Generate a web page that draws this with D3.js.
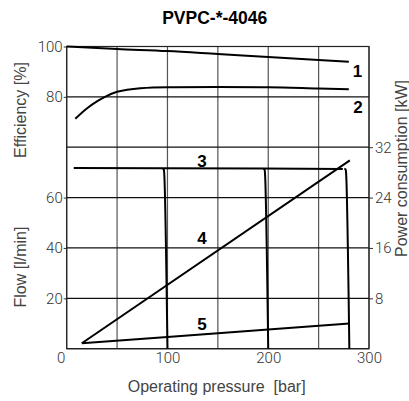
<!DOCTYPE html>
<html><head><meta charset="utf-8">
<script src="https://cdn.jsdelivr.net/npm/d3@7"></script>
<style>
html,body{margin:0;padding:0;background:#fff;}
svg{display:block;}
.tick text{font-family:Roboto,"Liberation Sans",sans-serif;font-weight:300;}
</style></head>
<body>
<svg id="c" width="409" height="401"></svg>
<script>
// ---- data ----
const title = "PVPC-*-4046";
const xTicks = [0, 100, 200, 300];
const xGrid = [0, 50, 100, 150, 200, 250, 300];
const effTicks = [100, 80];
const flowTicks = [20, 40, 60];
const powerTicks = [8, 16, 24, 32];

// curve 1: overall efficiency [%]
const c1Pressure = [0, 50, 100, 150, 200, 250, 280];
const c1Eff = [100, 99.0, 98.2, 97.0, 95.8, 94.6, 93.9];
// curve 2: volumetric efficiency [%]
const c2Pressure = [8.5, 20, 30, 38, 50, 60, 73, 100, 150, 200, 250, 280];
const c2Eff = [71.3, 75.4, 78.2, 80.0, 82.0, 82.8, 83.4, 83.8, 83.9, 83.8, 83.3, 83.0];
// curve 3: flow [l/min] with pressure settings 100, 200, 280 bar
const c3Pressure = [7, 95, 195, 274];
const c3Flow = [71.7, 71.6, 71.5, 71.3];
const c3Settings = [100, 200, 280.5];
const c3DropPressure = [-5, -3.6, -3.2, 0];   // relative to setting
const c3DropFlow = [71.5, 71.1, 69.5, 0];
// curve 4: power consumption [kW] at full flow
const c4Pressure = [15, 281];
const c4Power = [0.86, 29.9];
// curve 5: power consumption [kW] at zero flow
const c5Pressure = [15, 100, 200, 280.5];
const c5Power = [0.86, 1.85, 3.05, 4.0];

const curveLabels = ["1", "2", "3", "4", "5"];

// ---- layout ----
const svg = d3.select("#c");
const L = 66.7, R = 369, T = 46.5, B = 348.7, MID = 147.2;
const x = d3.scaleLinear().domain([0, 300]).range([L, R]);
const yEff = d3.scaleLinear().domain([60, 100]).range([MID, T]);
const yFlow = d3.scaleLinear().domain([0, 80]).range([B, MID]);
const yPow = d3.scaleLinear().domain([0, 32]).range([B, MID]);

const tickFont = 'Roboto, "Liberation Sans", sans-serif';
const labFont = '"Liberation Sans", Arial, sans-serif';

// grid
const g = svg.append("g");
g.selectAll("line.v").data(xGrid).join("line")
  .attr("x1", d => x(d)).attr("x2", d => x(d)).attr("y1", T).attr("y2", B)
  .attr("stroke", "#555").attr("stroke-width", 1.2);
const hVals = [yEff(100), yEff(80), yEff(60), yFlow(60), yFlow(40), yFlow(20), yFlow(0)];
g.selectAll("line.h").data(hVals).join("line")
  .attr("x1", L).attr("x2", R).attr("y1", d => d).attr("y2", d => d)
  .attr("stroke", "#111").attr("stroke-width", 1.2);

// axes
const effAxis = d3.axisLeft(yEff).tickValues(effTicks).tickSize(3).tickPadding(1);
const flowAxis = d3.axisLeft(yFlow).tickValues(flowTicks).tickSize(3).tickPadding(1);
const powAxis = d3.axisRight(yPow).tickValues(powerTicks).tickSize(4).tickPadding(2);
const xAxis = d3.axisBottom(x).tickValues(xTicks).tickSize(0).tickPadding(4);

function styleAxis(sel) {
  sel.select(".domain").remove();
  sel.selectAll(".tick line").attr("stroke", "#333");
  sel.selectAll(".tick text").attr("font-family", tickFont).attr("font-size", 15)
    .attr("fill", "#333");
}
svg.append("g").attr("transform", `translate(${L},0)`).call(effAxis).call(styleAxis);
svg.append("g").attr("transform", `translate(${L},0)`).call(flowAxis).call(styleAxis);
svg.append("g").attr("transform", `translate(${R},0)`).call(powAxis).call(styleAxis);
const xa = svg.append("g").attr("transform", `translate(0,${B})`).call(xAxis).call(styleAxis);
xa.selectAll(".tick").filter(d => d === 0).select("text").attr("dx", -6);

// border
svg.append("rect").attr("x", L).attr("y", T).attr("width", R - L).attr("height", B - T)
  .attr("fill", "none").attr("stroke", "#222").attr("stroke-width", 1.2);

// curves
const lw = 2;
function drawLine(px, py, ys, curve) {
  const pts = px.map((p, i) => [p, py[i]]);
  svg.append("path").datum(pts)
    .attr("d", d3.line().x(d => x(d[0])).y(d => ys(d[1])).curve(curve || d3.curveMonotoneX))
    .attr("fill", "none").attr("stroke", "#000").attr("stroke-width", lw)
    .attr("stroke-linejoin", "round");
}
drawLine(c1Pressure, c1Eff, yEff);
drawLine(c2Pressure, c2Eff, yEff);
drawLine(c3Pressure, c3Flow, yFlow, d3.curveLinear);
c3Settings.forEach(s => {
  drawLine(c3DropPressure.map(d => s + d), c3DropFlow, yFlow);
});
drawLine(c4Pressure, c4Power, yPow, d3.curveLinear);
drawLine(c5Pressure, c5Power, yPow, d3.curveLinear);

// curve number labels
const labelPos = [[357.5, 71], [358, 107.5], [202, 161], [202, 238], [202, 324]];
svg.selectAll("text.num").data(curveLabels).join("text")
  .attr("x", (d, i) => labelPos[i][0]).attr("y", (d, i) => labelPos[i][1])
  .attr("text-anchor", "middle").attr("dominant-baseline", "central")
  .attr("font-family", labFont).attr("font-weight", "bold").attr("font-size", 17)
  .attr("fill", "#000").text(d => d);

// title
svg.append("text").attr("x", 214.7).attr("y", 23.5).attr("text-anchor", "middle")
  .attr("font-family", labFont).attr("font-weight", "bold").attr("font-size", 17.5)
  .attr("fill", "#000").text(title);

// axis titles
svg.append("text").attr("x", 216.7).attr("y", 392).attr("text-anchor", "middle")
  .attr("font-family", labFont).attr("font-size", 16).attr("fill", "#444")
  .attr("xml:space", "preserve").style("white-space", "pre")
  .text("Operating pressure  [bar]");
svg.append("text").attr("transform", "translate(26,110) rotate(-90)")
  .attr("text-anchor", "middle").attr("font-family", labFont).attr("font-size", 16)
  .attr("fill", "#444").text("Efficiency [%]");
svg.append("text").attr("transform", "translate(26,267) rotate(-90)")
  .attr("text-anchor", "middle").attr("font-family", labFont).attr("font-size", 16)
  .attr("fill", "#444").text("Flow [l/min]");
svg.append("text").attr("transform", "translate(407,168.5) rotate(-90)")
  .attr("text-anchor", "middle").attr("font-family", labFont).attr("font-size", 16)
  .attr("fill", "#444").text("Power consumption [kW]");
</script>
</body></html>
